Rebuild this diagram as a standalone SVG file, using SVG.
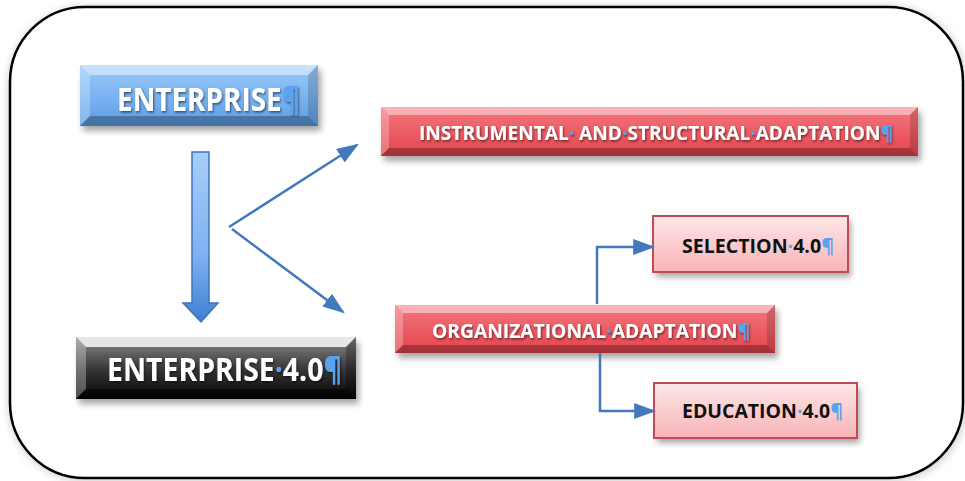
<svg xmlns="http://www.w3.org/2000/svg" width="965" height="481" viewBox="0 0 965 481">
<defs>
  <linearGradient id="gBlue" x1="0" y1="0" x2="0" y2="1">
    <stop offset="0" stop-color="#9ccaf9"/>
    <stop offset="1" stop-color="#5b9de6"/>
  </linearGradient>
  <linearGradient id="gDark" x1="0" y1="0" x2="0" y2="1">
    <stop offset="0" stop-color="#8a8a8a"/>
    <stop offset="0.55" stop-color="#333333"/>
    <stop offset="1" stop-color="#050505"/>
  </linearGradient>
  <linearGradient id="gRed" x1="0" y1="0" x2="0" y2="1">
    <stop offset="0" stop-color="#f5777e"/>
    <stop offset="1" stop-color="#e4434c"/>
  </linearGradient>
  <linearGradient id="gPink" x1="0" y1="0" x2="0" y2="1">
    <stop offset="0" stop-color="#fde6e6"/>
    <stop offset="1" stop-color="#f8b4b8"/>
  </linearGradient>
  <linearGradient id="gArrow" x1="0" y1="0" x2="0" y2="1">
    <stop offset="0" stop-color="#a9cdfa"/>
    <stop offset="0.6" stop-color="#7fb2f0"/>
    <stop offset="1" stop-color="#3f7ed0"/>
  </linearGradient>
  <filter id="shadow" x="-10%" y="-30%" width="120%" height="170%">
    <feGaussianBlur stdDeviation="3"/>
  </filter>
  <filter id="frameShadow" x="-5%" y="-5%" width="110%" height="110%">
    <feGaussianBlur stdDeviation="4"/>
  </filter>
  <filter id="txtShadow" x="-5%" y="-30%" width="110%" height="160%">
    <feDropShadow dx="1" dy="1.5" stdDeviation="1.2" flood-color="#000" flood-opacity="0.55"/>
  </filter>
  <marker id="arrowHead" viewBox="0 0 10 10" refX="9" refY="5" markerWidth="22" markerHeight="16" markerUnits="userSpaceOnUse" orient="auto" preserveAspectRatio="none">
    <path d="M0,0 L10,5 L0,10 Z" fill="#4478bd"/>
  </marker>
</defs>
<style>
  .lbl { font-family: "Open Sans", "Liberation Sans", sans-serif; font-weight: 700; }
  .white { fill: #ffffff; filter: url(#txtShadow); }
  .black { fill: #111111; }
  .mark { fill: #5aa2ee; }
  .sh { fill: #000; opacity: 0.35; filter: url(#shadow); }
  .hiT { fill: #ffffff; opacity: 0.45; }
  .hiL { fill: #ffffff; opacity: 0.25; }
  .loR { fill: #000000; opacity: 0.15; }
  .loB { fill: #000000; opacity: 0.28; }
  .conn { fill: none; stroke: #4478bd; stroke-width: 2.5; }
</style>

<!-- outer frame -->
<g id="frame">
  <rect x="12" y="10" width="951" height="468" rx="75" ry="75" fill="none" stroke="#000" stroke-opacity="0.25" stroke-width="6" filter="url(#frameShadow)"/>
  <rect x="10" y="7" width="953" height="471" rx="75" ry="75" fill="#ffffff" stroke="#000000" stroke-width="2.5"/>
</g>

<!-- ENTERPRISE -->
<g id="node-enterprise">
  <rect class="sh" x="83" y="70" width="238" height="61"/>
  <rect x="80" y="65" width="238" height="61" fill="url(#gBlue)"/>
  <polygon class="hiT" points="80,65 318,65 308,75 90,75"/>
  <polygon class="hiL" points="80,65 90,75 90,116 80,126"/>
  <polygon class="loR" points="318,65 318,126 308,116 308,75"/>
  <polygon class="loB" points="80,126 318,126 308,116 90,116"/>
  <text class="lbl white" x="117" y="111" font-size="32" textLength="183" lengthAdjust="spacingAndGlyphs">ENTERPRISE<tspan class="mark">¶</tspan></text>
</g>

<!-- ENTERPRISE 4.0 -->
<g id="node-enterprise40">
  <rect class="sh" x="79" y="342" width="280" height="62"/>
  <rect x="76" y="337" width="280" height="62" fill="url(#gDark)"/>
  <polygon points="76,337 356,337 346,347 86,347" fill="#e6e6e6"/>
  <polygon points="76,337 86,347 86,389 76,399" fill="#ffffff" opacity="0.3"/>
  <polygon points="356,337 356,399 346,389 346,347" fill="#000" opacity="0.25"/>
  <polygon points="76,399 356,399 346,389 86,389" fill="#000" opacity="0.5"/>
  <text class="lbl white" x="107" y="381" font-size="32" textLength="235" lengthAdjust="spacingAndGlyphs">ENTERPRISE<tspan class="mark">·</tspan>4.0<tspan class="mark">¶</tspan></text>
</g>

<!-- INSTRUMENTAL AND STRUCTURAL ADAPTATION -->
<g id="node-instrumental">
  <rect class="sh" x="384" y="112" width="537" height="49"/>
  <rect x="381" y="107" width="537" height="49" fill="url(#gRed)"/>
  <polygon class="hiT" points="381,107 918,107 910,115 389,115"/>
  <polygon class="hiL" points="381,107 389,115 389,148 381,156"/>
  <polygon class="loR" points="918,107 918,156 910,148 910,115"/>
  <polygon class="loB" points="381,156 918,156 910,148 389,148"/>
  <text class="lbl white" x="419" y="140" font-size="19.5" textLength="474" lengthAdjust="spacingAndGlyphs">INSTRUMENTAL<tspan class="mark">·</tspan> AND<tspan class="mark">·</tspan>STRUCTURAL<tspan class="mark">·</tspan>ADAPTATION<tspan class="mark">¶</tspan></text>
</g>

<!-- ORGANIZATIONAL ADAPTATION -->
<g id="node-organizational">
  <rect class="sh" x="398" y="310" width="380" height="48"/>
  <rect x="395" y="305" width="380" height="48" fill="url(#gRed)"/>
  <polygon class="hiT" points="395,305 775,305 767,313 403,313"/>
  <polygon class="hiL" points="395,305 403,313 403,345 395,353"/>
  <polygon class="loR" points="775,305 775,353 767,345 767,313"/>
  <polygon class="loB" points="395,353 775,353 767,345 403,345"/>
  <text class="lbl white" x="432" y="338" font-size="19.5" textLength="318" lengthAdjust="spacingAndGlyphs">ORGANIZATIONAL<tspan class="mark">·</tspan>ADAPTATION<tspan class="mark">¶</tspan></text>
</g>

<!-- SELECTION 4.0 -->
<g id="node-selection">
  <rect class="sh" x="656" y="221" width="195" height="56"/>
  <rect x="653" y="216" width="195" height="56" fill="url(#gPink)" stroke="#c04a55" stroke-width="2"/>
  <text class="lbl black" x="682" y="253" font-size="20" textLength="152" lengthAdjust="spacingAndGlyphs">SELECTION<tspan class="mark">·</tspan>4.0<tspan class="mark">¶</tspan></text>
</g>

<!-- EDUCATION 4.0 -->
<g id="node-education">
  <rect class="sh" x="657" y="388" width="203" height="55"/>
  <rect x="654" y="383" width="203" height="55" fill="url(#gPink)" stroke="#c04a55" stroke-width="2"/>
  <text class="lbl black" x="682" y="418" font-size="20" textLength="161" lengthAdjust="spacingAndGlyphs">EDUCATION<tspan class="mark">·</tspan>4.0<tspan class="mark">¶</tspan></text>
</g>

<!-- connectors -->
<g id="connectors">
  <path d="M192,152 H209 V303 H218 L201,322 L183,303 H192 Z" fill="url(#gArrow)" stroke="#3f74bd" stroke-width="1.5" stroke-linejoin="miter"/>
  <line class="conn" x1="229" y1="227" x2="357" y2="145" marker-end="url(#arrowHead)"/>
  <line class="conn" x1="232" y1="229" x2="343" y2="312" marker-end="url(#arrowHead)"/>
  <path class="conn" d="M597,304 V247 H653" marker-end="url(#arrowHead)"/>
  <path class="conn" d="M600,353 V411 H654" marker-end="url(#arrowHead)"/>
</g>
</svg>
